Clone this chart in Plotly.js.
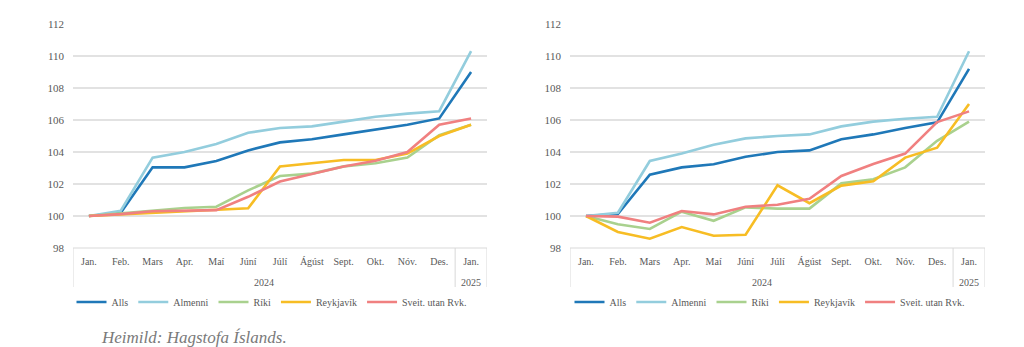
<!DOCTYPE html>
<html>
<head>
<meta charset="utf-8">
<script src="https://cdn.plot.ly/plotly-3.0.1.min.js"></script>
<style>html,body{margin:0;padding:0;background:#fff;}#chart{width:1024px;height:347px;}</style>
</head>
<body>
<div id="chart"></div>
<script>
// Category labels
const months = ['Jan.','Feb.','Mars','Apr.','Maí','Júní','Júlí','Ágúst','Sept.','Okt.','Nóv.','Des.','Jan.'];
const years = ['2024','2025'];
const seriesNames = ['Alls','Almenni','Ríki','Reykjavík','Sveit. utan Rvk.'];
const seriesColors = ['#1f78b8','#93cddd','#a9d18e','#f7bd24','#f08080'];

// Left chart values
const leftAlls      = [100,100.2,103.04,103.04,103.44,104.1,104.6,104.8,105.1,105.4,105.7,106.1,109.0];
const leftAlmenni   = [100,100.33,103.65,104.0,104.5,105.2,105.5,105.6,105.9,106.2,106.4,106.55,110.3];
const leftRiki      = [100,100.17,100.37,100.5,100.58,101.6,102.5,102.65,103.1,103.3,103.65,105.05,105.7];
const leftReykjavik = [100,100.1,100.2,100.3,100.37,100.48,103.1,103.3,103.5,103.5,103.9,105.0,105.7];
const leftSveit     = [100,100.12,100.3,100.35,100.37,101.2,102.15,102.62,103.1,103.45,104.0,105.7,106.1];

// Right chart values
const rightAlls      = [100,100.12,102.58,103.04,103.23,103.7,104.0,104.1,104.8,105.1,105.5,105.85,109.2];
const rightAlmenni   = [100,100.2,103.44,103.9,104.45,104.85,105.0,105.1,105.6,105.9,106.08,106.2,110.3];
const rightRiki      = [100,99.48,99.19,100.27,99.7,100.54,100.46,100.46,102.04,102.3,103.04,104.7,105.9];
const rightReykjavik = [100,99.0,98.58,99.31,98.77,98.83,101.92,100.8,101.9,102.17,103.65,104.27,107.0];
const rightSveit     = [100,99.96,99.58,100.31,100.1,100.58,100.7,101.08,102.5,103.25,103.9,105.87,106.54];

const leftSeries = [leftAlls,leftAlmenni,leftRiki,leftReykjavik,leftSveit];
const rightSeries = [rightAlls,rightAlmenni,rightRiki,rightReykjavik,rightSveit];
const xIdx = months.map((_, i) => i);

const FONT = 'Liberation Serif, Times New Roman, serif';
const traces = [];
leftSeries.forEach((vals, k) => traces.push({
  type:'scatter', mode:'lines', x:xIdx, y:vals, name:seriesNames[k],
  line:{color:seriesColors[k], width:2.6}, xaxis:'x', yaxis:'y', legend:'legend', hoverinfo:'skip'
}));
rightSeries.forEach((vals, k) => traces.push({
  type:'scatter', mode:'lines', x:xIdx, y:vals, name:seriesNames[k],
  line:{color:seriesColors[k], width:2.6}, xaxis:'x2', yaxis:'y2', legend:'legend2', hoverinfo:'skip'
}));

const yBottom = 1 - 248/347;
const yTop = 1 - 24/347;
const boxBottom = 1 - 287/347;
const yearY = 1 - 282/347;

function xa(domain, anchor){
  return {domain:domain, anchor:anchor, range:[-0.5, months.length-0.5], tickmode:'array',
    tickvals:xIdx, ticktext:months, showgrid:false, zeroline:false, showline:false, ticks:'',
    ticklabelstandoff:6, tickfont:{family:FONT, size:10, color:'#595959'}, fixedrange:true};
}
function ya(anchor){
  return {domain:[yBottom, yTop], anchor:anchor, range:[98,112], dtick:2, tick0:98,
    showgrid:true, gridcolor:'#e2e2e2', gridwidth:1.3, zeroline:false, showline:false, ticks:'',
    ticklabelstandoff:8, tickfont:{family:FONT, size:11, color:'#595959'}, fixedrange:true};
}

const shapes = [];
const annotations = [];
[['x','y'],['x2','y2']].forEach(([xr]) => {
  const lc = {color:'#d9d9d9', width:1};
  shapes.push({type:'line', xref:xr+' domain', yref:'paper', x0:0, x1:1, y0:yBottom, y1:yBottom, line:lc});
  [-0.5, months.length-1.5, months.length-0.5].forEach(xv => shapes.push(
    {type:'line', xref:xr, yref:'paper', x0:xv, x1:xv, y0:yBottom, y1:boxBottom, line:lc}));
  annotations.push({xref:xr, yref:'paper', x:(months.length-2)/2, y:yearY, yanchor:'middle', text:years[0], showarrow:false,
    font:{family:FONT, size:10, color:'#595959'}});
  annotations.push({xref:xr, yref:'paper', x:months.length-1, y:yearY, yanchor:'middle', text:years[1], showarrow:false,
    font:{family:FONT, size:10, color:'#595959'}});
});
annotations.push({xref:'paper', yref:'paper', x:99/1024, y:1-337/347, xanchor:'left', yanchor:'middle',
  text:'<i>Heimild: Hagstofa Íslands.</i>', showarrow:false, font:{family:FONT, size:17, color:'#7a7a7a'}});

const legendBase = {orientation:'h', yanchor:'middle', y:1-302/347, xanchor:'center',
  font:{family:FONT, size:10, color:'#595959'}, bgcolor:'rgba(0,0,0,0)', itemwidth:30, tracegroupgap:0};

const layout = {
  width:1024, height:347, margin:{l:0,r:0,t:0,b:0}, paper_bgcolor:'#fff', plot_bgcolor:'#fff',
  xaxis: xa([73/1024, 487/1024], 'y'),
  yaxis: ya('x'),
  xaxis2: xa([570/1024, 985/1024], 'y2'),
  yaxis2: ya('x2'),
  legend: Object.assign({}, legendBase, {x:272/1024}),
  legend2: Object.assign({}, legendBase, {x:770/1024}),
  shapes:shapes, annotations:annotations, showlegend:true
};
Plotly.newPlot('chart', traces, layout, {staticPlot:true, displayModeBar:false});
</script>
</body>
</html>
